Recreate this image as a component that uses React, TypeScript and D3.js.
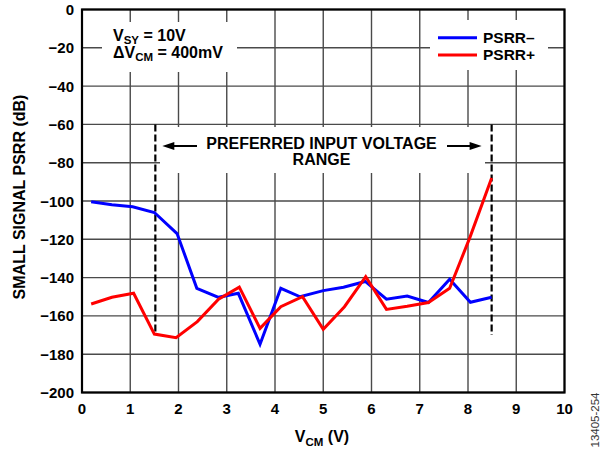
import React from "react";
import * as d3 from "d3";

const xTicks = [0, 1, 2, 3, 4, 5, 6, 7, 8, 9, 10];
const yTicks = [0, -20, -40, -60, -80, -100, -120, -140, -160, -180, -200];

const minusV = [0.19, 0.62, 1.05, 1.5, 1.97, 2.38, 2.83, 3.24, 3.69, 4.12, 4.52, 5.0, 5.42, 5.87, 6.31, 6.74, 7.18, 7.62, 8.05, 8.49];
const minusDb = [-100.4, -102, -103, -106, -117, -145.6, -150.3, -148.2, -174.8, -145.6, -150, -146.8, -145, -142, -151.3, -149.6, -153, -140.9, -152.9, -150.3];

const plusV = [0.19, 0.62, 1.07, 1.5, 1.95, 2.39, 2.83, 3.26, 3.69, 4.12, 4.57, 5.0, 5.44, 5.88, 6.31, 6.74, 7.18, 7.62, 8.04, 8.49];
const plusDb = [-153.8, -150.3, -148.2, -169.5, -171.4, -163, -151.3, -145, -166.5, -155.2, -150, -167, -155.2, -139.5, -156.6, -155, -153, -145.6, -119, -88];

const rangeMarkers = [1.52, 8.49];
const rangeTop = -60;
const rangeBottom = -170;

const FONT = "'Liberation Sans', Arial, Helvetica, sans-serif";

export default function App() {
  const x = d3.scaleLinear().domain([0, 10]).range([82, 564.5]);
  const y = d3.scaleLinear().domain([0, -200]).range([9.5, 392.5]);

  const line = d3
    .line<[number, number]>()
    .x((d) => x(d[0]))
    .y((d) => y(d[1]));

  const minusPts = minusV.map((v, i) => [v, minusDb[i]] as [number, number]);
  const plusPts = plusV.map((v, i) => [v, plusDb[i]] as [number, number]);

  const arrowY = 146;

  return (
    <div style={{ position: "absolute", left: 0, top: 0 }}>
      <svg width={605} height={452} style={{ display: "block", background: "#fff" }} fontFamily={FONT}>
        {/* grid */}
        {xTicks.map((t) => (
          <line key={"gx" + t} x1={x(t)} x2={x(t)} y1={y(0)} y2={y(-200)} stroke="#4a4a4a" strokeWidth={1.4} />
        ))}
        {yTicks.map((t) => (
          <line key={"gy" + t} x1={x(0)} x2={x(10)} y1={y(t)} y2={y(t)} stroke="#4a4a4a" strokeWidth={1.4} />
        ))}
        {/* white boxes behind annotations */}
        <rect x={102} y={22} width={135} height={50} fill="#fff" />
        <rect x={430} y={20} width={118} height={50} fill="#fff" />
        <rect x={160} y={127} width={325} height={46} fill="#fff" />

        {/* range markers */}
        {rangeMarkers.map((v) => (
          <line
            key={"rm" + v}
            x1={x(v)}
            x2={x(v)}
            y1={y(rangeTop)}
            y2={y(rangeBottom)}
            stroke="#000"
            strokeWidth={2.2}
            strokeDasharray="7,3"
          />
        ))}

        {/* arrows */}
        <line x1={x(rangeMarkers[0]) + 14} x2={197} y1={arrowY} y2={arrowY} stroke="#000" strokeWidth={2} />
        <path
          d={`M${x(rangeMarkers[0]) + 7},${arrowY} L${x(rangeMarkers[0]) + 19},${arrowY - 4} L${x(rangeMarkers[0]) + 19},${arrowY + 4} Z`}
          fill="#000"
        />
        <line x1={447} x2={x(rangeMarkers[1]) - 14} y1={arrowY} y2={arrowY} stroke="#000" strokeWidth={2} />
        <path
          d={`M${x(rangeMarkers[1]) - 10},${arrowY} L${x(rangeMarkers[1]) - 22},${arrowY - 4} L${x(rangeMarkers[1]) - 22},${arrowY + 4} Z`}
          fill="#000"
        />
        <text x={321.5} y={149} textAnchor="middle" fontSize={16} fontWeight="bold">
          PREFERRED INPUT VOLTAGE
        </text>
        <text x={321.5} y={164.5} textAnchor="middle" fontSize={16} fontWeight="bold">
          RANGE
        </text>

        {/* data */}
        <path d={line(minusPts) || ""} fill="none" stroke="#0000ff" strokeWidth={3} strokeLinejoin="miter" />
        <path d={line(plusPts) || ""} fill="none" stroke="#ff0000" strokeWidth={3} strokeLinejoin="miter" />

        {/* frame */}
        <rect x={x(0)} y={y(0)} width={x(10) - x(0)} height={y(-200) - y(0)} fill="none" stroke="#000" strokeWidth={2.2} />

        {/* y tick labels */}
        {yTicks.map((t) => (
          <text key={"yl" + t} x={74} y={y(t) + 5.5} textAnchor="end" fontSize={15} fontWeight="bold">
            {t === 0 ? "0" : "\u2212" + Math.abs(t)}
          </text>
        ))}
        {/* x tick labels */}
        {xTicks.map((t) => (
          <text key={"xl" + t} x={x(t)} y={413.5} textAnchor="middle" fontSize={15} fontWeight="bold">
            {t}
          </text>
        ))}

        {/* axis titles */}
        <text x={322} y={442} textAnchor="middle" fontSize={16} fontWeight="bold">
          V<tspan fontSize={11.5} dy={4}>CM</tspan>
          <tspan dy={-4}> (V)</tspan>
        </text>
        <text
          transform="translate(25,197) rotate(-90)"
          textAnchor="middle"
          fontSize={16}
          fontWeight="bold"
        >
          SMALL SIGNAL PSRR (dB)
        </text>

        {/* conditions */}
        <text x={113} y={40.5} fontSize={16} fontWeight="bold">
          V<tspan fontSize={11.5} dy={3}>SY</tspan>
          <tspan dy={-3}> = 10V</tspan>
        </text>
        <text x={113} y={57.5} fontSize={16} fontWeight="bold">
          ΔV<tspan fontSize={11.5} dy={3}>CM</tspan>
          <tspan dy={-3}> = 400mV</tspan>
        </text>

        {/* legend */}
        <line x1={438} x2={477} y1={37.7} y2={37.7} stroke="#0000ff" strokeWidth={3} />
        <line x1={438} x2={477} y1={55} y2={55} stroke="#ff0000" strokeWidth={3} />
        <text x={483} y={42.5} fontSize={15.5} fontWeight="bold">
          PSRR–
        </text>
        <text x={483} y={60} fontSize={15.5} fontWeight="bold">
          PSRR+
        </text>

        {/* figure id */}
        <text transform="translate(599,420) rotate(-90)" textAnchor="middle" fontSize={11.5} fill="#333">
          13405-254
        </text>
      </svg>
    </div>
  );
}
